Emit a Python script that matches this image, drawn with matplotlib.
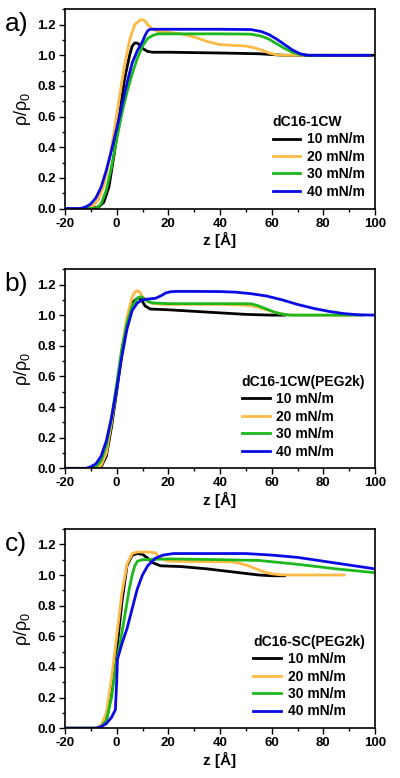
import matplotlib.pyplot as plt
from matplotlib.ticker import MultipleLocator

plt.rcParams['font.family'] = ['Liberation Sans', 'DejaVu Sans']
plt.rcParams['axes.unicode_minus'] = False

labels = ['10 mN/m', '20 mN/m', '30 mN/m', '40 mN/m']
colors = ['#000000', '#FDBB45', '#1DB81D', '#0A0AE6']
titles = ['dC16-1CW', 'dC16-1CW(PEG2k)', 'dC16-SC(PEG2k)']
panels = ['a)', 'b)', 'c)']

# panel a) dC16-1CW
a_z10 = [-20, -10, -7, -5, -3, -1, 1, 3, 5, 6, 7, 8, 9, 10, 12, 14, 20, 40, 55, 60, 65, 100]
a_r10 = [0, 0, 0.01, 0.04, 0.14, 0.35, 0.6, 0.84, 1.0, 1.06, 1.08, 1.08, 1.065, 1.045, 1.025, 1.02, 1.02, 1.015, 1.01, 1.005, 1.0, 1.0]
a_z20 = [-20, -12, -9, -7, -5, -3, -1, 1, 3, 5, 7, 9, 10, 11, 12, 14, 16, 20, 25, 30, 35, 40, 45, 50, 53, 56, 59, 62, 65, 72]
a_r20 = [0, 0, 0.02, 0.06, 0.15, 0.3, 0.5, 0.72, 0.93, 1.1, 1.2, 1.23, 1.232, 1.225, 1.2, 1.17, 1.155, 1.15, 1.14, 1.12, 1.09, 1.07, 1.065, 1.06, 1.05, 1.035, 1.015, 1.003, 1.0, 1.0]
a_z30 = [-20, -10, -8, -6, -4, -2, 0, 2, 4, 6, 8, 10, 12, 14, 16, 20, 40, 52, 56, 59, 62, 65, 68, 71, 74, 80]
a_r30 = [0, 0, 0.0, 0.03, 0.12, 0.27, 0.45, 0.62, 0.76, 0.88, 0.98, 1.06, 1.11, 1.13, 1.14, 1.14, 1.14, 1.138, 1.125, 1.105, 1.075, 1.045, 1.02, 1.005, 1.0, 1.0]
a_z40 = [-20, -14, -12, -10, -8, -6, -4, -2, 0, 2, 4, 6, 8, 10, 11, 12, 13, 15, 20, 40, 52, 56, 59, 62, 65, 68, 71, 74, 80, 98]
a_r40 = [0, 0, 0.01, 0.03, 0.07, 0.14, 0.25, 0.38, 0.52, 0.67, 0.82, 0.95, 1.03, 1.09, 1.13, 1.16, 1.17, 1.17, 1.17, 1.17, 1.168, 1.155, 1.135, 1.105, 1.07, 1.035, 1.01, 1.0, 1.0, 1.0]

# panel b) dC16-1CW(PEG2k)
b_z10 = [-20, -8, -6, -4, -2, 0, 2, 4, 6, 8, 9, 10, 11, 13, 20, 30, 40, 50, 60, 65]
b_r10 = [0, 0, 0.01, 0.08, 0.27, 0.5, 0.75, 0.96, 1.08, 1.11, 1.11, 1.09, 1.06, 1.04, 1.035, 1.025, 1.015, 1.005, 1.0, 1.0]
b_z20 = [-20, -8, -6, -4, -2, 0, 2, 4, 6, 7, 8, 9, 10, 12, 14, 20, 40, 50, 54, 58, 62, 66, 70, 90]
b_r20 = [0, 0, 0.02, 0.1, 0.3, 0.53, 0.78, 0.99, 1.12, 1.15, 1.16, 1.15, 1.12, 1.09, 1.075, 1.07, 1.07, 1.065, 1.055, 1.035, 1.015, 1.003, 1.0, 1.0]
b_z30 = [-20, -10, -8, -6, -4, -2, 0, 2, 4, 6, 8, 9, 10, 12, 14, 20, 40, 52, 55, 58, 61, 64, 67, 70, 95]
b_r30 = [0, 0, 0.01, 0.05, 0.15, 0.33, 0.55, 0.78, 0.95, 1.06, 1.11, 1.12, 1.115, 1.09, 1.08, 1.075, 1.075, 1.074, 1.06, 1.04, 1.02, 1.007, 1.0, 1.0, 1.0]
b_z40 = [-20, -12, -10, -8, -6, -4, -2, 0, 2, 4, 6, 8, 10, 12, 15, 17, 19, 21, 23, 30, 40, 46, 52, 58, 64, 70, 76, 82, 88, 94, 100]
b_r40 = [0, 0, 0.01, 0.03, 0.08, 0.18, 0.33, 0.52, 0.73, 0.91, 1.03, 1.08, 1.1, 1.105, 1.11, 1.125, 1.145, 1.153, 1.155, 1.155, 1.154, 1.15, 1.14, 1.125, 1.1, 1.07, 1.045, 1.025, 1.01, 1.002, 1.0]

# panel c) dC16-SC(PEG2k)
c_z10 = [-20, -8, -6, -4, -2, 0, 2, 4, 6, 8, 10, 12, 14, 17, 25, 35, 45, 55, 60, 65]
c_r10 = [0, 0, 0.01, 0.05, 0.22, 0.5, 0.82, 1.06, 1.13, 1.14, 1.135, 1.11, 1.08, 1.06, 1.055, 1.04, 1.02, 1.0, 0.995, 0.995]
c_z20 = [-20, -8, -6, -4, -2, 0, 2, 4, 6, 8, 12, 15, 17, 20, 45, 48, 51, 54, 57, 60, 63, 66, 88]
c_r20 = [0, 0, 0.02, 0.1, 0.32, 0.6, 0.88, 1.07, 1.14, 1.15, 1.15, 1.145, 1.11, 1.09, 1.085, 1.075, 1.06, 1.04, 1.02, 1.008, 1.002, 1.0, 1.0]
c_z30 = [-20, -8, -6, -4, -2, 0, 2, 4, 5, 6, 7, 8, 10, 20, 40, 55, 70, 85, 100]
c_r30 = [0, 0, 0.01, 0.05, 0.2, 0.44, 0.62, 0.82, 0.92, 1.0, 1.06, 1.09, 1.1, 1.105, 1.1, 1.095, 1.07, 1.04, 1.015]
c_z40 = [-20, -8, -6, -4, -2, -0.5, 0, 0.3, 2, 4, 6, 8, 10, 12, 15, 18, 22, 30, 50, 60, 70, 80, 90, 100]
c_r40 = [0, 0, 0.01, 0.03, 0.07, 0.12, 0.3, 0.45, 0.55, 0.65, 0.78, 0.91, 1.0, 1.06, 1.11, 1.13, 1.14, 1.14, 1.14, 1.13, 1.115, 1.09, 1.065, 1.04]

data = [
    [(a_z10, a_r10), (a_z20, a_r20), (a_z30, a_r30), (a_z40, a_r40)],
    [(b_z10, b_r10), (b_z20, b_r20), (b_z30, b_r30), (b_z40, b_r40)],
    [(c_z10, c_r10), (c_z20, c_r20), (c_z30, c_r30), (c_z40, c_r40)],
]

fig = plt.figure(figsize=(4.0, 7.78), dpi=100)
tops = [0.988, 0.654, 0.320]
h = 0.256

for i in range(3):
    ax = fig.add_axes([0.1625, tops[i] - h, 0.775, h])
    for (z, r), c, lab in zip(data[i], colors, labels):
        ax.plot(z, r, color=c, lw=2.0, label=lab)
    ax.set_xlim(-20, 100)
    ax.set_ylim(0, 1.3)
    ax.xaxis.set_major_locator(MultipleLocator(20))
    ax.xaxis.set_minor_locator(MultipleLocator(10))
    ax.yaxis.set_minor_locator(MultipleLocator(0.1))
    ax.set_yticks([0, 0.2, 0.4, 0.6, 0.8, 1.0, 1.2])
    ax.set_yticklabels(['0.0', '0.2', '0.4', '0.6', '0.8', '1.0', '1.2'])
    ax.tick_params(which='major', direction='out', length=4, width=1, labelsize=9.5, pad=2.5)
    ax.tick_params(which='minor', direction='out', length=2.5, width=1)
    for t in ax.get_xticklabels() + ax.get_yticklabels():
        t.set_fontweight('bold')
    for s in ax.spines.values():
        s.set_linewidth(1.2)
    ax.set_xlabel('z [Å]', fontsize=11, fontweight='bold', labelpad=2)
    ax.set_ylabel(r'$\mathregular{\rho/\rho_0}$', fontsize=13, labelpad=3)
    leg = ax.legend(title=titles[i], loc='lower right', frameon=False,
                    prop={'weight': 'bold', 'size': 10}, labelspacing=0.25,
                    handlelength=2.0, handletextpad=0.5, borderaxespad=0.3,
                    title_fontproperties={'weight': 'bold', 'size': 10})
    leg._legend_box.align = 'left'
    fig.text(0.012, tops[i] - 0.004, panels[i], fontsize=19, va='top', ha='left')

fig.savefig('out.png', dpi=100)
